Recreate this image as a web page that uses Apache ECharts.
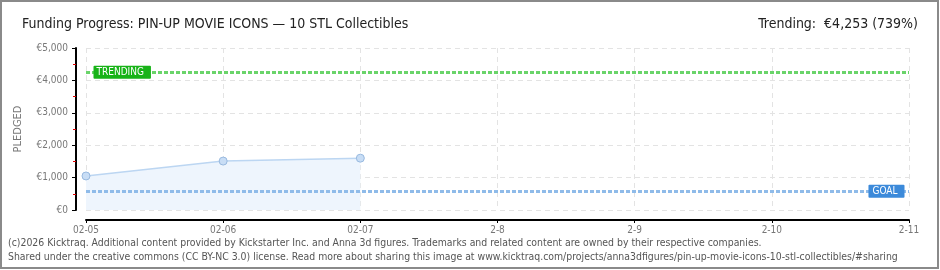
<!DOCTYPE html>
<html><head><meta charset="utf-8">
<script src="https://cdn.jsdelivr.net/npm/echarts@6/dist/echarts.min.js"></script>
<style>html,body{margin:0;padding:0;background:#fff}#c{width:940px;height:270px}</style>
</head><body><div id="c"></div>
<script>
const categories = ['02-05','02-06','02-07','2-8','2-9','2-10','2-11'];
const pledged = [1050, 1510, 1600, null, null, null, null];
const goal = 575;
const trending = 4253;
const yTicks = [0, 1000, 2000, 3000, 4000, 5000];
const titleText = 'Funding Progress: PIN-UP MOVIE ICONS \u2014 10 STL Collectibles';
const trendText = 'Trending:  \u20ac4,253 (739%)';
const footer1 = '(c)2026 Kicktraq. Additional content provided by Kickstarter Inc. and Anna 3d figures. Trademarks and related content are owned by their respective companies.';
const footer2 = 'Shared under the creative commons (CC BY-NC 3.0) license. Read more about sharing this image at www.kicktraq.com/projects/anna3dfigures/pin-up-movie-icons-10-stl-collectibles/#sharing';

const FONT = '"DejaVu Sans Condensed", "DejaVu Sans", sans-serif';
const chart = echarts.init(document.getElementById('c'), null, {renderer: 'canvas'});
chart.setOption({
  animation: false,
  textStyle: {fontFamily: FONT},
  title: [
    {text: titleText, left: 17, top: 12, textStyle: {fontFamily: FONT, fontSize: 14, fontWeight: 'normal', color: '#222'}},
    {text: trendText, right: 17, top: 12, textStyle: {fontFamily: FONT, fontSize: 14, fontWeight: 'normal', color: '#222'}}
  ],
  grid: {left: 86, right: 31, top: 48, bottom: 60, containLabel: false},
  xAxis: {
    type: 'category', data: categories, boundaryGap: false, offset: 10,
    axisLine: {onZero: false, lineStyle: {color: '#000', width: 2}},
    axisTick: {show: true, length: 3, inside: false, lineStyle: {color: '#000', width: 1}},
    axisLabel: {color: '#777', fontSize: 10, margin: 5, fontFamily: FONT},
    splitLine: {show: true, lineStyle: {color: '#e3e3e3', type: [5, 4]}}
  },
  yAxis: {
    type: 'value', min: yTicks[0], max: yTicks[yTicks.length - 1], interval: 1000, offset: 10,
    name: 'PLEDGED', nameLocation: 'middle', nameGap: 52, nameRotate: 90,
    nameTextStyle: {color: '#777', fontSize: 11, fontFamily: FONT},
    axisLine: {show: true, onZero: false, lineStyle: {color: '#000', width: 2}},
    axisTick: {show: true, length: 4, lineStyle: {color: '#000'}},
    minorTick: {show: true, splitNumber: 2, length: 3, lineStyle: {color: '#e00000'}},
    axisLabel: {color: '#777', fontSize: 10, margin: 8, fontFamily: FONT,
      formatter: v => '\u20ac' + v.toLocaleString('en-US')},
    splitLine: {show: true, lineStyle: {color: '#e3e3e3', type: [5, 4]}}
  },
  graphic: [
    {type: 'rect', shape: {x: 1, y: 1, width: 937, height: 267}, style: {fill: 'none', stroke: '#8a8a8a', lineWidth: 2}, silent: true},
    {type: 'text', left: 8, top: 238, style: {text: footer1, fill: '#555', font: '10.4px ' + FONT}},
    {type: 'text', left: 8, top: 252, style: {text: footer2, fill: '#555', font: '10.4px ' + FONT}}
  ],
  series: [
    {
      type: 'line', data: pledged, connectNulls: false,
      symbol: 'circle', symbolSize: 8,
      itemStyle: {color: '#c8ddf5', borderColor: '#98b9df', borderWidth: 1},
      lineStyle: {color: '#bcd6f2', width: 1.5},
      areaStyle: {color: '#eef5fd', opacity: 1},
      z: 2
    },
    {
      type: 'line', data: [], z: 3,
      markLine: {
        silent: true, symbol: 'none',
        label: {show: false},
        data: [
          {yAxis: goal, lineStyle: {color: '#8fbbe9', width: 3, type: [4, 2]}},
          {yAxis: trending, lineStyle: {color: '#6ad46a', width: 3, type: [4, 2]}}
        ]
      },
      markPoint: {
        silent: true, symbol: 'rect', symbolSize: 1,
        itemStyle: {color: 'rgba(0,0,0,0)'},
        data: [
          {coord: [categories[6], goal], label: {show: true, formatter: 'GOAL', position: 'left', distance: 4,
            color: '#fff', fontSize: 10, fontFamily: FONT, backgroundColor: '#3c8ada', padding: [2, 7, 1, 4], borderRadius: 1}},
          {coord: [categories[0], trending], label: {show: true, formatter: 'TRENDING', position: 'right', distance: 7,
            color: '#fff', fontSize: 10, fontFamily: FONT, backgroundColor: '#18b318', padding: [2, 7, 1, 3], borderRadius: 1}}
        ]
      }
    }
  ]
});
</script></body></html>
